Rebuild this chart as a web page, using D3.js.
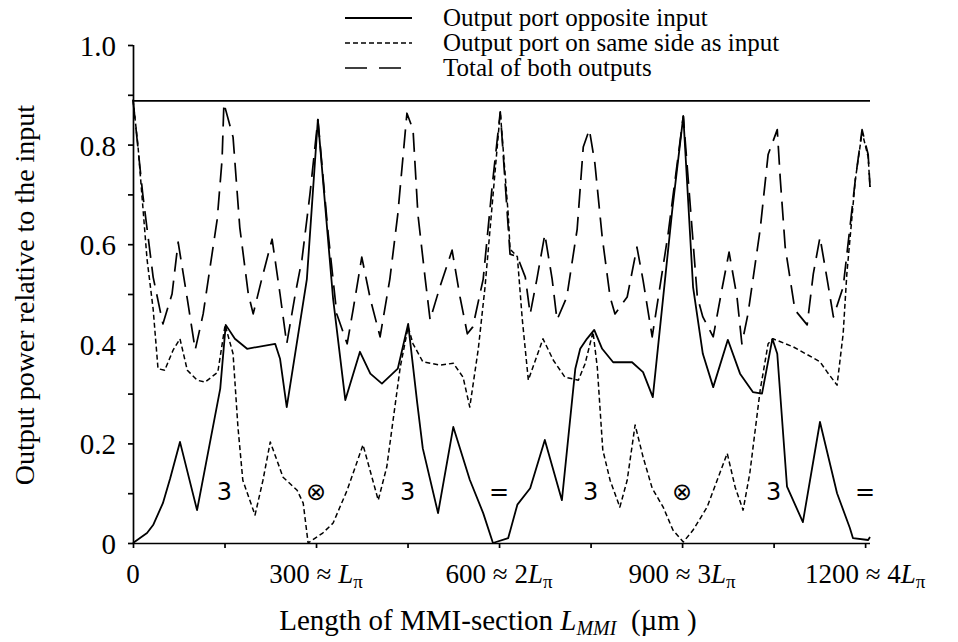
<!DOCTYPE html>
<html>
<head>
<meta charset="utf-8">
<script src="https://cdn.jsdelivr.net/npm/d3@7"></script>
<style>
  body { margin: 0; background: #fff; }
  svg { display: block; }
  text { fill: #000; white-space: pre; }
</style>
</head>
<body>
<svg width="958" height="642" font-family="'Liberation Serif', 'Times New Roman', Times, serif"></svg>
<script>
// Length of MMI section (um) and output power for each trace
var oppositeX = [0, 23, 33, 49, 61, 77, 105, 143, 152, 167, 187, 233, 241, 252, 285, 303, 328, 348, 372, 389,
                 408, 434, 451, 466, 475, 500, 525, 552, 574, 590, 615, 630, 651, 675, 703, 725, 733, 744, 756, 769,
                 787, 818, 836, 852, 884, 902, 918, 934, 951, 975, 995, 1016, 1031, 1048, 1056, 1072, 1098, 1126, 1154, 1175,
                 1180, 1205, 1208];
var oppositeY = [0.0, 0.02, 0.036, 0.08, 0.13, 0.203, 0.066, 0.31, 0.438, 0.41, 0.39, 0.40, 0.37, 0.273, 0.53, 0.85, 0.49, 0.287, 0.384, 0.34,
                 0.32, 0.35, 0.44, 0.28, 0.19, 0.06, 0.233, 0.127, 0.06, 0.0, 0.01, 0.077, 0.11, 0.207, 0.086, 0.35, 0.39, 0.41, 0.428, 0.39,
                 0.363, 0.363, 0.343, 0.293, 0.67, 0.857, 0.514, 0.38, 0.313, 0.408, 0.34, 0.303, 0.30, 0.41, 0.38, 0.113, 0.042, 0.243, 0.10, 0.03,
                 0.01, 0.006, 0.012];

var sameX = [0, 8, 23, 33, 41, 52, 66, 77, 89, 105, 118, 139, 151, 164, 172, 180, 200, 213, 225, 246,
             269, 279, 287, 311, 328, 351, 377, 402, 416, 438, 451, 459, 475, 503, 525, 541, 552, 566, 577, 602,
             615, 618, 630, 638, 648, 672, 689, 708, 730, 741, 754, 761, 770, 782, 798, 810, 823, 836, 851, 869,
             885, 902, 918, 941, 974, 987, 1000, 1011, 1028, 1041, 1049, 1082, 1126, 1138, 1154, 1164, 1170, 1184, 1195, 1205,
             1208];
var sameY = [0.89, 0.80, 0.57, 0.47, 0.35, 0.347, 0.388, 0.41, 0.347, 0.327, 0.323, 0.343, 0.438, 0.38, 0.233, 0.126, 0.056, 0.126, 0.203, 0.132,
             0.106, 0.08, 0.0, 0.02, 0.04, 0.106, 0.197, 0.086, 0.153, 0.353, 0.434, 0.40, 0.364, 0.357, 0.361, 0.333, 0.273, 0.39, 0.514, 0.866,
             0.66, 0.59, 0.575, 0.45, 0.327, 0.41, 0.367, 0.333, 0.327, 0.36, 0.424, 0.353, 0.187, 0.126, 0.072, 0.126, 0.237, 0.173, 0.11, 0.072,
             0.026, 0.002, 0.026, 0.072, 0.18, 0.112, 0.066, 0.14, 0.307, 0.40, 0.41, 0.394, 0.364, 0.343, 0.317, 0.42, 0.54, 0.73, 0.825, 0.775,
             0.715];

var totalX = [0, 16, 33, 49, 64, 74, 89, 102, 115, 138, 146, 149, 164, 175, 189, 197, 211, 228, 241, 252,
              266, 277, 290, 303, 320, 334, 351, 361, 375, 389, 405, 421, 434, 449, 459, 467, 479, 487, 503, 523,
              536, 548, 557, 574, 589, 602, 618, 630, 643, 651, 662, 675, 687, 695, 711, 728, 738, 748, 757, 769,
              782, 790, 810, 826, 836, 851, 877, 902, 925, 934, 951, 966, 977, 990, 998, 1008, 1028, 1041, 1056, 1061,
              1069, 1085, 1105, 1115, 1126, 1138, 1148, 1164, 1184, 1195, 1205, 1208];
var totalY = [0.89, 0.70, 0.534, 0.44, 0.50, 0.604, 0.49, 0.388, 0.46, 0.65, 0.77, 0.883, 0.815, 0.634, 0.50, 0.46, 0.53, 0.61, 0.50, 0.40,
              0.50, 0.57, 0.70, 0.85, 0.62, 0.46, 0.40, 0.47, 0.574, 0.49, 0.414, 0.53, 0.66, 0.863, 0.83, 0.66, 0.53, 0.448, 0.514, 0.588,
              0.494, 0.42, 0.434, 0.53, 0.72, 0.866, 0.58, 0.575, 0.534, 0.46, 0.53, 0.62, 0.53, 0.448, 0.494, 0.63, 0.795, 0.83, 0.763, 0.615,
              0.494, 0.46, 0.494, 0.594, 0.528, 0.414, 0.62, 0.857, 0.494, 0.454, 0.414, 0.514, 0.584, 0.494, 0.40, 0.46, 0.63, 0.78, 0.83, 0.73,
              0.594, 0.468, 0.438, 0.54, 0.614, 0.528, 0.454, 0.514, 0.73, 0.83, 0.78, 0.715];

var refLevel = 0.888;

var xTicks = d3.range(0, 1201, 150);
var xLabelValues = [0, 300, 600, 900, 1200];
var xLabelNums = ["0", "300 \u2248 ", "600 \u2248 2", "900 \u2248 3", "1200 \u2248 4"];
var yTicks = d3.range(0, 10.5, 1).map(function(d) { return d / 10; });
var yLabelValues = [0, 0.2, 0.4, 0.6, 0.8, 1.0];
var yLabels = ["0", "0.2", "0.4", "0.6", "0.8", "1.0"];

var markX = [150, 300, 450, 600, 750, 900, 1050, 1200];
var markText = ["3", "\u2297", "3", "=", "3", "\u2297", "3", "="];
var markLevel = 0.105;

var legendNames = ["Output port opposite input", "Output port on same side as input", "Total of both outputs"];

var svg = d3.select("svg");

var x = d3.scaleLinear().domain([0, 1208]).range([133, 870]);
var y = d3.scaleLinear().domain([0, 1]).range([543, 45]);

var styles = [
    { width: 1.8, dash: null },
    { width: 1.5, dash: "5,3" },
    { width: 1.7, dash: "19,9" }
];

function toPoints(xs, ys) {
    return xs.map(function(d, i) { return [d, ys[i]]; });
}

var line = d3.line()
             .x(function(d) { return x(d[0]); })
             .y(function(d) { return y(d[1]); });

// axes
var xAxis = d3.axisBottom(x).tickValues(xTicks).tickSize(5).tickFormat("");
svg.append("g")
   .attr("transform", "translate(0," + y(0) + ")")
   .call(xAxis)
   .call(function(g) { g.select(".domain").attr("d", "M133,0.5H870"); });

var yAxis = d3.axisLeft(y).tickValues(yTicks).tickSize(5).tickFormat("");
svg.append("g")
   .attr("transform", "translate(" + x(0) + ",0)")
   .call(yAxis)
   .call(function(g) { g.select(".domain").attr("d", "M0.5," + y(1) + "V" + y(0)); });

svg.selectAll(".tick line, .domain").attr("stroke", "#000").attr("stroke-width", 1.7);

// y tick labels
svg.append("g").selectAll("text")
   .data(yLabelValues)
   .enter().append("text")
   .attr("x", x(0) - 17)
   .attr("y", function(d) { return y(d) + 11; })
   .attr("text-anchor", "end")
   .attr("font-size", 29)
   .text(function(d, i) { return yLabels[i]; });

// x tick labels
var xl = svg.append("g").selectAll("text")
   .data(xLabelValues)
   .enter().append("text")
   .attr("x", function(d) { return x(d); })
   .attr("y", 583)
   .attr("text-anchor", "middle")
   .attr("font-size", 27);
xl.append("tspan").text(function(d, i) { return xLabelNums[i]; });
xl.filter(function(d) { return d > 0; }).append("tspan").attr("font-style", "italic").text("L");
xl.filter(function(d) { return d > 0; }).append("tspan").attr("font-size", 19).attr("dy", 5).text("\u03c0");

// axis titles
var xt = svg.append("text")
   .attr("x", 488)
   .attr("y", 630)
   .attr("text-anchor", "middle")
   .attr("font-size", 29);
xt.append("tspan").text("Length of MMI-section ");
xt.append("tspan").attr("font-style", "italic").text("L");
xt.append("tspan").attr("font-style", "italic").attr("font-size", 20).attr("dy", 5).text("MMI");
xt.append("tspan").attr("dy", -5).text("  (\u00b5m )");

svg.append("text")
   .attr("transform", "translate(34,295) rotate(-90)")
   .attr("text-anchor", "middle")
   .attr("font-size", 28)
   .text("Output power relative to the input");

// reference level
svg.append("path")
   .datum([[0, refLevel], [1208, refLevel]])
   .attr("d", line)
   .attr("fill", "none")
   .attr("stroke", "#000")
   .attr("stroke-width", 1.7);

// curves
var series = [toPoints(oppositeX, oppositeY), toPoints(sameX, sameY), toPoints(totalX, totalY)];
svg.append("g").selectAll("path")
   .data(series)
   .enter().append("path")
   .attr("d", line)
   .attr("fill", "none")
   .attr("stroke", "#000")
   .attr("stroke-linejoin", "round")
   .attr("stroke-width", function(d, i) { return styles[i].width; })
   .attr("stroke-dasharray", function(d, i) { return styles[i].dash; });

// interference marks
svg.append("g").selectAll("text")
   .data(markX)
   .enter().append("text")
   .attr("font-family", "'DejaVu Sans', sans-serif")
   .attr("x", function(d) { return x(d); })
   .attr("y", y(markLevel) + 9)
   .attr("text-anchor", "middle")
   .attr("font-size", 24)
   .text(function(d, i) { return markText[i]; });

// legend
var legend = svg.append("g").selectAll("g")
   .data(legendNames)
   .enter().append("g")
   .attr("transform", function(d, i) { return "translate(0," + (18 + i * 25) + ")"; });

legend.append("line")
   .attr("x1", 345).attr("x2", 412)
   .attr("stroke", "#000")
   .attr("stroke-width", function(d, i) { return styles[i].width; })
   .attr("stroke-dasharray", function(d, i) { return i == 2 ? "22,12" : styles[i].dash; });

legend.append("text")
   .attr("x", 443)
   .attr("y", 8)
   .attr("font-size", 25)
   .text(function(d) { return d; });
</script>
</body>
</html>
